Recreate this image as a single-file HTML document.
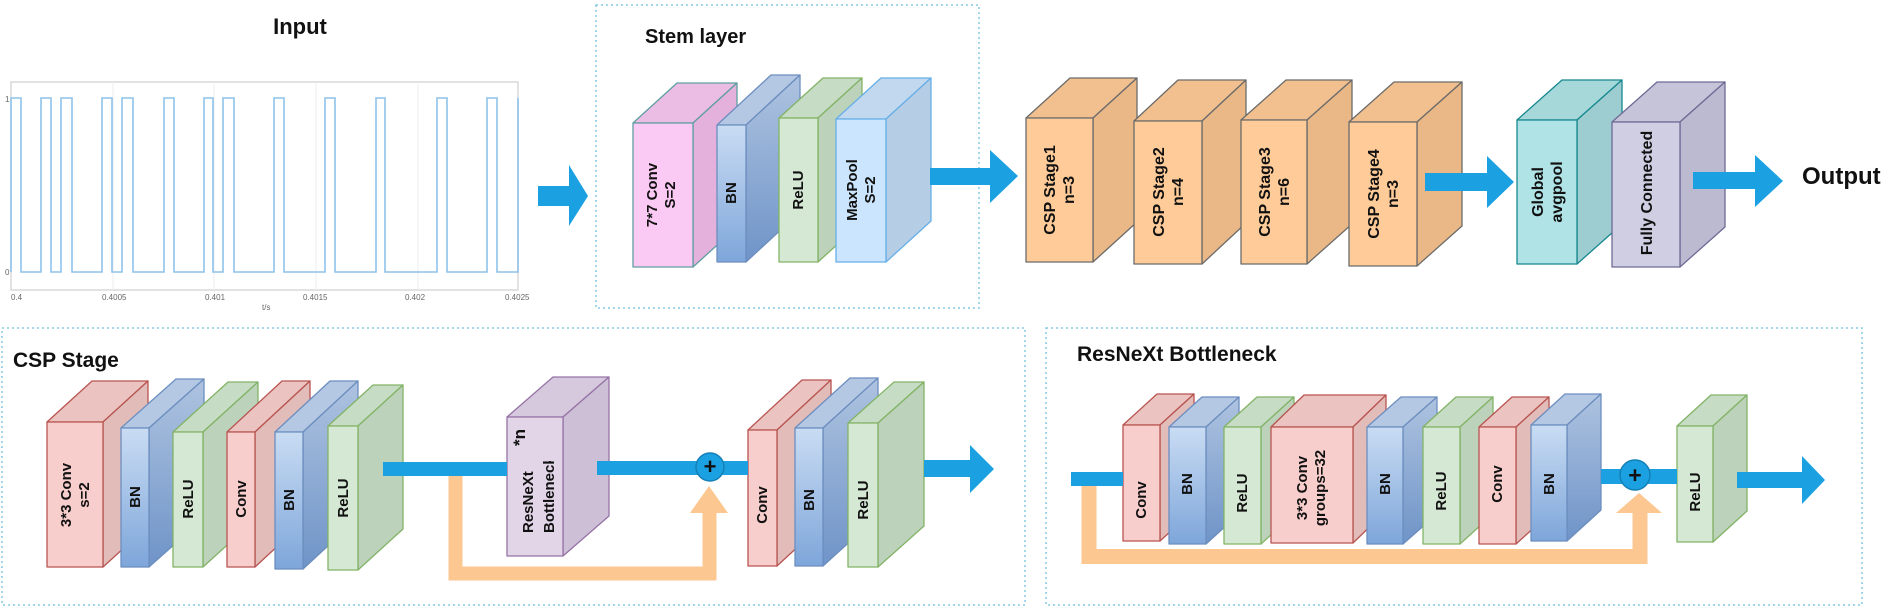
<!DOCTYPE html>
<html><head><meta charset="utf-8">
<style>
html,body{margin:0;padding:0;background:#fff;}
svg{display:block;}
text{font-family:"Liberation Sans",Arial,sans-serif;font-weight:bold;fill:#111;}
</style></head>
<body>
<svg id="s" width="1890" height="607" viewBox="0 0 1890 607" xmlns="http://www.w3.org/2000/svg">
<defs>
<linearGradient id="bnF" x1="0" y1="0" x2="0" y2="1"><stop offset="0" stop-color="#c9dcf3"/><stop offset="1" stop-color="#7ea6da"/></linearGradient>
<linearGradient id="bnS" x1="0" y1="0" x2="0" y2="1"><stop offset="0" stop-color="#aec3e0"/><stop offset="1" stop-color="#6f94c8"/></linearGradient>
<clipPath id="rxclip" clipPathUnits="userSpaceOnUse"><rect x="500" y="461" width="70" height="110"/></clipPath>
</defs>

<g fill="none" stroke="#86c9e6" stroke-width="1.5" stroke-dasharray="2 3">
<rect x="596" y="5" width="383" height="303"/>
<rect x="2" y="328" width="1023" height="277"/>
<rect x="1046" y="328" width="816" height="277"/>
</g>

<text x="300" y="34" font-size="22" text-anchor="middle">Input</text>
<text x="645" y="43" font-size="20">Stem layer</text>
<text x="13" y="367" font-size="21">CSP Stage</text>
<text x="1077" y="361" font-size="21">ResNeXt Bottleneck</text>
<text x="1802" y="184" font-size="24">Output</text>

<g>
<rect x="11" y="82" width="507" height="208" fill="none" stroke="#d8d8d8" stroke-width="1.5"/>
<g stroke="#ececec" stroke-width="1">
<line x1="113" y1="82" x2="113" y2="290"/><line x1="214" y1="82" x2="214" y2="290"/>
<line x1="316" y1="82" x2="316" y2="290"/><line x1="418" y1="82" x2="418" y2="290"/>
</g>
<path d="M11,272 V98 H21 V272 H41 V98 H51 V272 H61 V98 H72 V272 H102 V98 H112 V272 H122 V98 H133 V272 H164 V98 H174 V272 H204 V98 H213 V272 H223 V98 H234 V272 H274 V98 H284 V272 H325 V98 H335 V272 H376 V98 H385 V272 H437 V98 H447 V272 H487 V98 H497 V272 H518 V98" fill="none" stroke="#8ec3ea" stroke-width="1.6"/>
<g font-size="8">
<text x="5" y="102" style="font-weight:normal;fill:#666">1</text>
<text x="5" y="275" style="font-weight:normal;fill:#666">0</text>
<text x="11" y="300" style="font-weight:normal;fill:#666">0.4</text>
<text x="102" y="300" style="font-weight:normal;fill:#666">0.4005</text>
<text x="205" y="300" style="font-weight:normal;fill:#666">0.401</text>
<text x="303" y="300" style="font-weight:normal;fill:#666">0.4015</text>
<text x="405" y="300" style="font-weight:normal;fill:#666">0.402</text>
<text x="505" y="300" style="font-weight:normal;fill:#666">0.4025</text>
<text x="262" y="310" style="font-weight:normal;fill:#666">t/s</text>
</g>
</g>

<g id="blocks"></g>

<g fill="#1ba1e2">
<polygon points="538,186 569,186 569,165 588,196 569,226 569,206 538,206"/>
<polygon points="930,168 990,168 990,150 1018,176 990,203 990,185 930,185"/>
<polygon points="1425,173 1487,173 1487,156 1514,182 1487,208 1487,191 1425,191"/>
<polygon points="1693,172 1755,172 1755,155 1783,181 1755,207 1755,189 1693,189"/>
</g>

<g>
<path d="M455.5,476 V573.5 H709.5 V513" fill="none" stroke="#fdc792" stroke-width="14"/>
<polygon points="690,513 728,513 709,486" fill="#fdc792"/>
<rect x="383" y="462" width="124" height="14" fill="#1ba1e2"/>
<rect x="597" y="461" width="151" height="14" fill="#1ba1e2"/>
<circle cx="710" cy="467" r="14" fill="#1ba1e2" stroke="#1480b8" stroke-width="1.5"/>
<text x="710" y="474" font-size="22" text-anchor="middle">+</text>
<polygon points="924,460 970,460 970,445 994,469 970,493 970,477 924,477" fill="#1ba1e2"/>
</g>

<g>
<path d="M1089,486 V556.5 H1640 V513" fill="none" stroke="#fdc792" stroke-width="15"/>
<polygon points="1616,513 1662,513 1639,493" fill="#fdc792"/>
<rect x="1071" y="472" width="52" height="14" fill="#1ba1e2"/>
<rect x="1601" y="469" width="76" height="15" fill="#1ba1e2"/>
<circle cx="1635" cy="475" r="15" fill="#1ba1e2" stroke="#1480b8" stroke-width="1.5"/>
<text x="1635" y="483" font-size="23" text-anchor="middle">+</text>
<polygon points="1737,472 1802,472 1802,456 1825,480 1802,504 1802,488 1737,488" fill="#1ba1e2"/>
</g>

<g font-size="15">
<text transform="translate(661,195) rotate(-90)" text-anchor="middle"><tspan x="0" dy="-4">7*7 Conv</tspan><tspan x="0" dy="18">S=2</tspan></text>
<text transform="translate(731,193) rotate(-90)" text-anchor="middle" dy="5">BN</text>
<text transform="translate(798,190) rotate(-90)" text-anchor="middle" dy="5">ReLU</text>
<text transform="translate(861,190) rotate(-90)" text-anchor="middle"><tspan x="0" dy="-4">MaxPool</tspan><tspan x="0" dy="18">S=2</tspan></text>
</g>
<g font-size="16">
<text transform="translate(1059,190) rotate(-90)" text-anchor="middle"><tspan x="0" dy="-4">CSP Stage1</tspan><tspan x="0" dy="19">n=3</tspan></text>
<text transform="translate(1168,192) rotate(-90)" text-anchor="middle"><tspan x="0" dy="-4">CSP Stage2</tspan><tspan x="0" dy="19">n=4</tspan></text>
<text transform="translate(1274,192) rotate(-90)" text-anchor="middle"><tspan x="0" dy="-4">CSP Stage3</tspan><tspan x="0" dy="19">n=6</tspan></text>
<text transform="translate(1383,194) rotate(-90)" text-anchor="middle"><tspan x="0" dy="-4">CSP Stage4</tspan><tspan x="0" dy="19">n=3</tspan></text>
<text transform="translate(1547,192) rotate(-90)" text-anchor="middle"><tspan x="0" dy="-4">Global</tspan><tspan x="0" dy="19">avgpool</tspan></text>
<text transform="translate(1646,193) rotate(-90)" text-anchor="middle" dy="6">Fully Connected</text>
</g>
<g font-size="15">
<text transform="translate(75,495) rotate(-90)" text-anchor="middle"><tspan x="0" dy="-4">3*3 Conv</tspan><tspan x="0" dy="18">s=2</tspan></text>
<text transform="translate(135,497) rotate(-90)" text-anchor="middle" dy="5">BN</text>
<text transform="translate(188,499) rotate(-90)" text-anchor="middle" dy="5">ReLU</text>
<text transform="translate(241,499) rotate(-90)" text-anchor="middle" dy="5">Conv</text>
<text transform="translate(289,500) rotate(-90)" text-anchor="middle" dy="5">BN</text>
<text transform="translate(343,498) rotate(-90)" text-anchor="middle" dy="5">ReLU</text>
<g clip-path="url(#rxclip)">
<text transform="translate(533,533) rotate(-90)"><tspan x="0" y="0">ResNeXt</tspan><tspan x="0" y="21">Bottleneck</tspan></text>
</g>
<text transform="translate(525,446) rotate(-90)" font-size="17">*n</text>
<text transform="translate(762,505) rotate(-90)" text-anchor="middle" dy="5">Conv</text>
<text transform="translate(809,500) rotate(-90)" text-anchor="middle" dy="5">BN</text>
<text transform="translate(863,500) rotate(-90)" text-anchor="middle" dy="5">ReLU</text>
</g>
<g font-size="15">
<text transform="translate(1141,500) rotate(-90)" text-anchor="middle" dy="5">Conv</text>
<text transform="translate(1187,484) rotate(-90)" text-anchor="middle" dy="5">BN</text>
<text transform="translate(1242,493) rotate(-90)" text-anchor="middle" dy="5">ReLU</text>
<text transform="translate(1311,488) rotate(-90)" text-anchor="middle"><tspan x="0" dy="-4">3*3 Conv</tspan><tspan x="0" dy="18">groups=32</tspan></text>
<text transform="translate(1385,484) rotate(-90)" text-anchor="middle" dy="5">BN</text>
<text transform="translate(1441,491) rotate(-90)" text-anchor="middle" dy="5">ReLU</text>
<text transform="translate(1497,484) rotate(-90)" text-anchor="middle" dy="5">Conv</text>
<text transform="translate(1549,484) rotate(-90)" text-anchor="middle" dy="5">BN</text>
<text transform="translate(1695,492) rotate(-90)" text-anchor="middle" dy="5">ReLU</text>
</g>
</svg>
<script>
(function(){
var P={
pink:["#fbcaf4","#ebbde5","#e3b1dc","#5f9ea0"],
bn:["url(#bnF)","#b4c8e4","url(#bnS)","#6c8ebf"],
green:["#d5e8d4","#c6dcc4","#bcd2ba","#82b366"],
mp:["#cce5ff","#c2d8ee","#b6cde6","#66afe6"],
org:["#ffcc99","#f2c08f","#e9b886","#6b6b6b"],
teal:["#b0e3e6","#a6d8da","#9dcdd0","#16888f"],
fc:["#d0cee2","#c6c4d8","#bcbad0","#6e6a96"],
red:["#f8cecc","#ebc3c0","#e2bcb9","#b85450"],
pur:["#e1d5e7","#d6c9dd","#cdbfd6","#9673a6"]};
var B=[
[633,123,693,267,44,-40,"pink"],[717,125,746,262,54,-50,"bn"],[779,118,818,262,44,-40,"green"],[836,119,886,262,45,-41,"mp"],
[1026,118,1093,262,44,-40,"org"],[1134,121,1202,264,44,-41,"org"],[1241,120,1307,264,45,-40,"org"],[1349,122,1417,266,45,-40,"org"],
[1517,120,1577,264,45,-40,"teal"],[1612,122,1680,267,45,-40,"fc"],
[47,422,103,567,45,-41,"red"],[121,428,149,567,55,-49,"bn"],[173,432,203,567,55,-50,"green"],[227,432,255,567,55,-51,"red"],[275,432,303,569,55,-51,"bn"],[328,426,358,570,45,-41,"green"],
[507,417,563,556,46,-40,"pur"],[748,430,777,566,54,-50,"red"],[795,428,823,566,55,-50,"bn"],[848,423,878,567,46,-41,"green"],
[1123,425,1160,541,34,-31,"red"],[1169,427,1206,544,33,-30,"bn"],[1224,427,1261,544,33,-30,"green"],[1271,427,1353,543,33,-32,"red"],[1367,427,1403,544,34,-30,"bn"],[1423,427,1460,544,33,-30,"green"],[1479,427,1516,544,33,-30,"red"],[1531,425,1567,541,34,-31,"bn"],[1677,426,1713,542,34,-31,"green"]];
var g=document.getElementById("blocks"),h="";
B.forEach(function(b){var x1=b[0],y1=b[1],x2=b[2],y2=b[3],dx=b[4],dy=b[5],c=P[b[6]];
var st=' stroke="'+c[3]+'" stroke-width="1.3" stroke-linejoin="round"';
h+='<polygon points="'+x1+','+y1+' '+(x1+dx)+','+(y1+dy)+' '+(x2+dx)+','+(y1+dy)+' '+x2+','+y1+'" fill="'+c[1]+'"'+st+'/>';
h+='<polygon points="'+x2+','+y1+' '+(x2+dx)+','+(y1+dy)+' '+(x2+dx)+','+(y2+dy)+' '+x2+','+y2+'" fill="'+c[2]+'"'+st+'/>';
h+='<rect x="'+x1+'" y="'+y1+'" width="'+(x2-x1)+'" height="'+(y2-y1)+'" fill="'+c[0]+'"'+st+'/>';});
g.innerHTML=h;})();
</script>
</body></html>
